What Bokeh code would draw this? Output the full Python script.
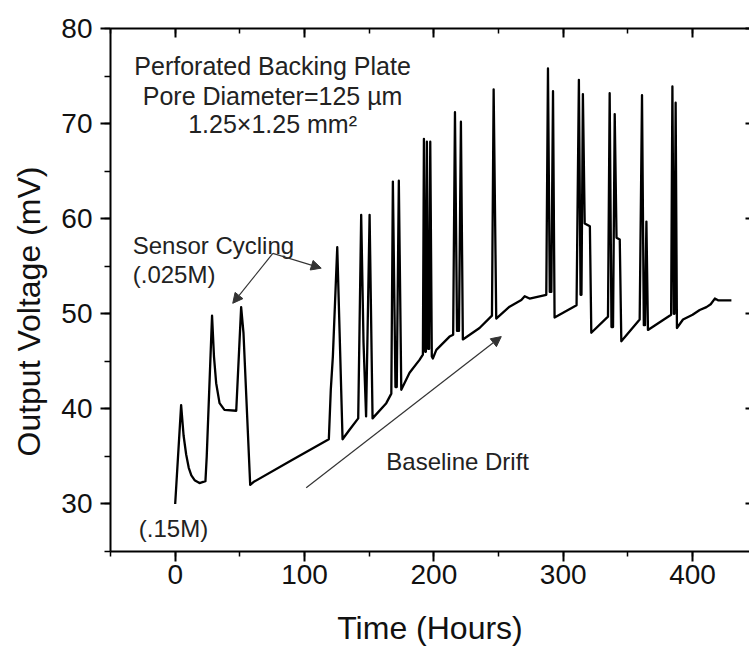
from bokeh.plotting import figure
from bokeh.models import (Label, Arrow, NormalHead, LinearAxis, SingleIntervalTicker,
                          Range1d, ColumnDataSource, Title, CustomLabelingPolicy)
from bokeh.embed import file_html
from bokeh.resources import INLINE

# ---- data ----
time_h = [0.0, 4.6, 6.5, 8.5, 10.5, 12.5, 15.0, 18.8, 23.4, 24.4, 28.5, 30.0, 31.7, 34.3,
          38.1, 47.2, 51.0, 52.8, 58.0, 60.5, 90.0, 118.8, 120.3, 121.9, 125.3, 129.4,
          134.8, 141.5, 143.8, 145.6, 147.6, 150.3, 152.6, 163.2, 167.1, 168.3, 170.3,
          171.3, 172.9, 174.8, 181.2, 188.9, 191.5, 192.3, 193.3, 193.8, 194.6, 195.6,
          196.3, 197.2, 198.4, 199.2, 201.9, 212.1, 214.9, 216.3, 217.9, 219.4, 220.9,
          222.4, 235.3, 244.9, 246.2, 248.2, 258.5, 267.6, 270.2, 274.0, 286.9, 288.2,
          289.6, 290.8, 292.1, 293.3, 310.3, 312.1, 313.4, 314.1, 315.2, 316.6, 320.6,
          321.7, 334.6, 335.9, 337.3, 338.5, 339.8, 341.2, 343.7, 344.9, 359.1, 360.9,
          362.3, 363.2, 364.3, 365.5, 383.4, 384.4, 385.5, 386.0, 386.9, 387.9, 392.6,
          400.0, 405.5, 410.7, 414.0, 417.2, 420.0, 430.0]
voltage_mv = [30.0, 40.4, 37.2, 35.2, 33.8, 33.0, 32.5, 32.2, 32.4, 35.0, 49.8, 45.5, 42.7,
              40.6, 39.9, 39.8, 50.7, 48.0, 32.0, 32.3, 34.6, 36.8, 42.0, 45.5, 57.0, 36.8,
              37.8, 39.0, 60.4, 47.0, 39.2, 60.4, 39.0, 40.6, 41.6, 63.9, 42.3,
              42.3, 64.0, 42.0, 43.8, 45.15, 45.7, 68.4, 46.0, 46.0, 68.1, 46.3,
              46.3, 68.1, 45.5, 45.3, 46.2, 47.6, 47.8, 71.2, 48.2, 48.2, 70.2,
              47.3, 48.5, 49.8, 73.6, 49.5, 50.75, 51.45, 51.85, 51.6, 52.0, 75.8,
              52.3, 52.3, 73.4, 49.6, 50.9, 74.6, 52.0, 52.0, 73.1, 59.5, 59.2,
              48.0, 49.7, 73.2, 48.6, 48.6, 71.0, 58.0, 57.8, 47.1, 49.4, 73.0,
              48.8, 48.8, 59.7, 48.3, 49.9, 73.9, 50.0, 50.0, 72.2, 48.5, 49.4,
              49.9, 50.4, 50.7, 51.0, 51.6, 51.4, 51.4]

x_tick_interval = 100
y_tick_interval = 10

FONT = "Liberation Sans"
TXT = "#222222"

p = figure(width=749, height=648, x_range=Range1d(-50, 444), y_range=Range1d(25, 80),
           output_backend="svg", toolbar_location=None,
           min_border_left=110, min_border_right=0, min_border_top=28, min_border_bottom=96,
           x_axis_location=None, y_axis_location=None)
p.grid.visible = False
p.outline_line_color = None
p.background_fill_color = "white"
p.border_fill_color = "white"

no_labels = CustomLabelingPolicy(code="""
try { for (const i of Array.from(indices)) { indices.unset(i) } } catch (e) {}
return indices
""")

def style_axis(ax, tick_in, tick_out, minor_in, minor_out, labels=True):
    ax.axis_line_width = 2
    ax.axis_line_color = "black"
    ax.major_tick_line_width = 2
    ax.minor_tick_line_width = 1.5
    ax.major_tick_line_color = "black"
    ax.minor_tick_line_color = "black"
    ax.major_tick_in = tick_in
    ax.major_tick_out = tick_out
    ax.minor_tick_in = minor_in
    ax.minor_tick_out = minor_out
    ax.major_label_text_font = FONT
    ax.major_label_text_color = "#111111"
    if labels:
        ax.major_label_text_font_size = "28px"
    else:
        ax.major_label_text_font_size = "0px"
        ax.major_label_standoff = 0
        ax.major_label_policy = no_labels

xb = LinearAxis(ticker=SingleIntervalTicker(interval=x_tick_interval, num_minor_ticks=2))
style_axis(xb, 0, 10, 0, 5)
xb.major_label_standoff = 3
xb.axis_label = "Time (Hours)"
xb.axis_label_text_font = FONT
xb.axis_label_text_font_size = "32px"
xb.axis_label_text_font_style = "normal"
xb.axis_label_text_color = "#111111"
xb.axis_label_standoff = 23
p.add_layout(xb, "below")

xt = LinearAxis(ticker=SingleIntervalTicker(interval=x_tick_interval, num_minor_ticks=2))
style_axis(xt, 9, 0, 5, 0, labels=False)
p.add_layout(xt, "above")

yl = LinearAxis(ticker=SingleIntervalTicker(interval=y_tick_interval, num_minor_ticks=2))
style_axis(yl, 0, 10, 0, 6)
yl.major_label_standoff = 8
p.add_layout(yl, "left")

yr = LinearAxis(ticker=SingleIntervalTicker(interval=y_tick_interval, num_minor_ticks=0))
style_axis(yr, 4, 0, 0, 0, labels=False)
yr.axis_line_color = None
p.add_layout(yr, "right")

ytitle = Title(text="Output Voltage (mV)", align="left", offset=95, vertical_align="top",
               standoff=20, text_font=FONT, text_font_size="32px", text_font_style="normal",
               text_color="#111111")
p.add_layout(ytitle, "left")

src = ColumnDataSource(dict(t=time_h, v=voltage_mv))
p.line("t", "v", source=src, line_width=2.3, line_color="black", line_join="round")

def lab(x, y, text, size="24px", align="left", baseline="alphabetic"):
    p.add_layout(Label(x=x, y=y, text=text, text_font=FONT, text_font_size=size,
                       text_color=TXT, text_align=align, text_baseline=baseline))

lab(75.3, 76.1, "Perforated Backing Plate", size="25px", align="center")
lab(75.3, 72.85, "Pore Diameter=125 µm", size="25px", align="center")
lab(75.3, 70.0, "1.25×1.25 mm²", size="25px", align="center")
lab(-32.8, 57.2, "Sensor Cycling")
lab(-32.8, 54.1, "(.025M)")
lab(-28.1, 27.4, "(.15M)")
lab(163.2, 34.5, "Baseline Drift")

def arrow(x0, y0, x1, y1):
    p.add_layout(Arrow(end=NormalHead(size=10, fill_color="#333333", line_color="#333333",
                                      line_width=1),
                       x_start=x0, y_start=y0, x_end=x1, y_end=y1,
                       line_color="#333333", line_width=1.2))

arrow(75.5, 56.35, 44.5, 51.1)
arrow(75.5, 56.35, 112.9, 54.8)
arrow(101.3, 31.7, 252.1, 47.6)

open("out.html", "w").write(file_html(p, INLINE))
